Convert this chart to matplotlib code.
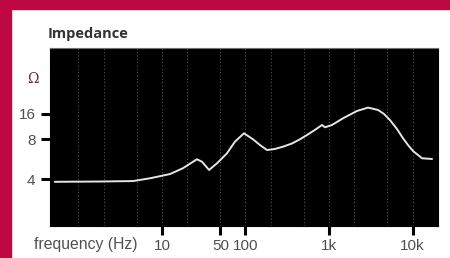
import numpy as np
import matplotlib
matplotlib.use("Agg")
import matplotlib.pyplot as plt
from matplotlib.patches import Rectangle

# Data
freq_hz = [0.52, 1.81, 4.5, 7.18, 12.5, 17.8, 26.2, 30.1, 36.6, 45.6, 60.0, 74.8, 95.9, 123, 149,
           181, 225, 281, 360, 449, 545, 679, 825, 895, 1086, 1472, 2163, 2930, 3864, 4560,
           5380, 6520, 7700, 8830, 10140, 13000, 17140]
impedance_ohm = [3.81, 3.83, 3.86, 4.05, 4.36, 4.82, 5.63, 5.40, 4.68, 5.25, 6.24, 7.64, 9.37, 7.96, 7.21,
                 6.61, 6.73, 7.0, 7.40, 7.96, 8.94, 10.3, 11.8, 11.07, 11.8, 14.2, 17.4, 19.1, 17.9, 16.0,
                 13.5, 10.56, 8.16, 7.21, 6.5, 5.73, 5.66]
x_ticks = [10, 50, 100, 1000, 10000]
x_tick_labels = ["10", "50", "100", "1k", "10k"]
y_ticks = [4, 8, 16]
y_tick_labels = ["4", "8", "16"]
grid_freqs = [1, 2, 5, 10, 20, 50, 100, 200, 500, 1000, 2000, 5000, 10000]

W, H = 450, 258
fig = plt.figure(figsize=(W / 100, H / 100), dpi=100)
fig.patch.set_facecolor("white")

crimson = "#BE0843"
fig.patches.append(Rectangle((0, 0), 11 / W, 1, transform=fig.transFigure, color=crimson, zorder=0))
fig.patches.append(Rectangle((0, 1 - 9 / H), 1, 9 / H, transform=fig.transFigure, color=crimson, zorder=0))

ax = fig.add_axes([50 / W, (H - 226) / H, 388 / W, 178 / H])
ax.set_facecolor("black")


def fwd(v):
    l = np.log2(np.maximum(np.asarray(v, dtype=float), 1e-12))
    return np.where(l < 3, -179 + (l - 2) * 40, -139 + (l - 3) * 25)


def inv(p):
    p = np.asarray(p, dtype=float)
    return 2 ** np.where(p < -139, 2 + (p + 179) / 40, 3 + (p + 139) / 25)


ax.set_xscale("log")
ax.set_yscale("function", functions=(fwd, inv))
ax.set_xlim(0.456, 20200)
ax.set_ylim(1.772, 99.7)

for g in grid_freqs:
    ax.axvline(g, color="#8a8a8a", lw=0.8, ls=(0, (1, 2)), alpha=0.6, zorder=1)

ax.plot(freq_hz, impedance_ohm, color="#e6e6e0", lw=1.4, zorder=3,
        solid_joinstyle="round", solid_capstyle="round")

ax.set_xticks(x_ticks)
ax.set_xticklabels(x_tick_labels)
ax.set_yticks(y_ticks)
ax.set_yticklabels(y_tick_labels)
ax.xaxis.set_minor_locator(matplotlib.ticker.NullLocator())
ax.yaxis.set_minor_locator(matplotlib.ticker.NullLocator())
ax.tick_params(axis="both", direction="out", length=6.5, width=2.2, color="black",
               labelcolor="#505050", labelsize=11)
ax.tick_params(axis="x", pad=2.5)
ax.tick_params(axis="y", pad=4)
for lab in ax.get_xticklabels() + ax.get_yticklabels():
    lab.set_family("Liberation Sans")
for s in ax.spines.values():
    s.set_color("black")
ax.spines["top"].set_color("#707070")

fig.text(137 / W, 1 - 245 / H, "frequency (Hz)", ha="right", va="center", fontsize=11.3,
         color="#505050", family="Liberation Sans")
fig.text(48 / W, 1 - 34 / H, "Impedance", ha="left", va="center", fontsize=10.5,
         fontweight="bold", color="#333333", family="Open Sans")
fig.text(33 / W, 1 - 79 / H, "Ω", ha="center", va="center", fontsize=10,
         color="#6b2a35", family="DejaVu Serif")

fig.savefig("out.png", dpi=100)
